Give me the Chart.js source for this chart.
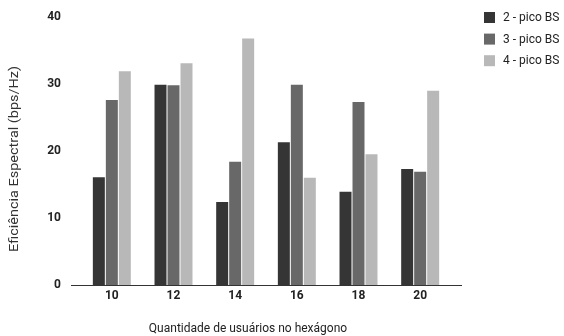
<!DOCTYPE html>
<html lang="pt">
<head>
<meta charset="utf-8">
<title>Eficiência Espectral</title>
<script src="https://cdn.jsdelivr.net/npm/chart.js@4"></script>
<style>
  html, body { margin: 0; padding: 0; background: #ffffff; }
  canvas { display: block; }
</style>
</head>
<body>
<canvas id="chart" width="564" height="336"></canvas>
<script>
// Quantidade de usuários por hexágono
const categories = ['10', '12', '14', '16', '18', '20'];

// Eficiência espectral (bps/Hz) para cada configuração de pico BS
const pico2 = [16.1, 29.9, 12.4, 21.3, 13.9, 17.3];
const pico3 = [27.6, 29.8, 18.4, 29.9, 27.3, 16.9];
const pico4 = [31.9, 33.1, 36.8, 16.0, 19.5, 29.0];

const seriesLabels = ['2 - pico BS', '3 - pico BS', '4 - pico BS'];
const yTicks = [0, 10, 20, 30, 40];

const xTitle = 'Quantidade de usuários no hexágono';
const yTitle = 'Eficiência Espectral (bps/Hz)';

const colors = ['#353535', '#686868', '#b8b8b8'];
const textColor = '#222222';
const fontFamily = 'Roboto, "Liberation Sans", Arial, sans-serif';

Chart.defaults.font.family = fontFamily;

// Baseline, axis titles and legend drawn on the canvas
const decorations = {
  id: 'decorations',
  afterDatasetsDraw(chart) {
    const { ctx, chartArea, scales } = chart;
    const y0 = Math.round(scales.y.getPixelForValue(0)) + 0.5;
    ctx.save();
    ctx.strokeStyle = '#333333';
    ctx.lineWidth = 1;
    ctx.beginPath();
    ctx.moveTo(chartArea.left - 10, y0);
    ctx.lineTo(chartArea.right + 11, y0);
    ctx.stroke();
    ctx.restore();
  },
  afterDraw(chart) {
    const { ctx } = chart;
    ctx.save();
    ctx.fillStyle = textColor;
    ctx.font = '12px ' + fontFamily;

    // x title
    ctx.textAlign = 'center';
    ctx.textBaseline = 'alphabetic';
    ctx.fillText(xTitle, 248, 332);

    // y title (rotated, stretched along its length)
    ctx.save();
    ctx.translate(15, 159);
    ctx.rotate(-Math.PI / 2);
    const w = ctx.measureText(yTitle).width;
    ctx.scale(186 / w, 1);
    ctx.textBaseline = 'middle';
    ctx.fillStyle = '#333333';
    ctx.fillText(yTitle, 0, 0);
    ctx.restore();

    // legend
    ctx.textAlign = 'left';
    ctx.textBaseline = 'middle';
    chart.data.datasets.forEach((ds, i) => {
      const top = 12 + i * 21.6;
      ctx.fillStyle = ds.backgroundColor;
      ctx.fillRect(484, top, 11, 11);
      ctx.fillStyle = textColor;
      ctx.fillText(ds.label, 503, top + 6);
    });
    ctx.restore();
  }
};

new Chart(document.getElementById('chart'), {
  type: 'bar',
  data: {
    labels: categories,
    datasets: [
      { label: seriesLabels[0], data: pico2, backgroundColor: colors[0] },
      { label: seriesLabels[1], data: pico3, backgroundColor: colors[1] },
      { label: seriesLabels[2], data: pico4, backgroundColor: colors[2] }
    ]
  },
  options: {
    responsive: false,
    animation: false,
    devicePixelRatio: 1,
    layout: { padding: { top: 17, bottom: 33, left: 0, right: 113 } },
    datasets: {
      bar: { barPercentage: 0.923, categoryPercentage: 0.632, borderWidth: 0 }
    },
    plugins: {
      legend: { display: false },
      tooltip: { enabled: false },
      title: { display: false }
    },
    scales: {
      x: {
        offset: true,
        grid: { display: false, drawTicks: false },
        border: { display: false },
        ticks: {
          color: textColor,
          font: { size: 12, weight: 'bold' },
          padding: 4,
          maxRotation: 0
        },
        afterFit(scale) { scale.height = 18; }
      },
      y: {
        min: 0,
        max: 40,
        grid: { display: false, drawTicks: false },
        border: { display: false },
        afterBuildTicks(scale) {
          scale.ticks = yTicks.map(v => ({ value: v }));
        },
        ticks: {
          color: textColor,
          font: { size: 12, weight: 'bold' },
          padding: 20
        },
        afterFit(scale) {
          scale.width = 81;
          scale.paddingTop = 0;
          scale.paddingBottom = 0;
        }
      }
    }
  },
  plugins: [decorations]
});
</script>
</body>
</html>
